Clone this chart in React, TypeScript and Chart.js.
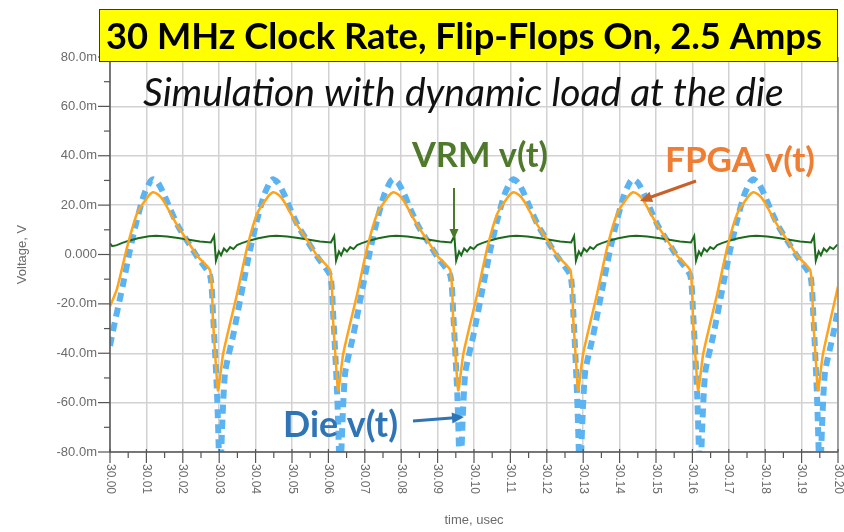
import React, { useEffect, useRef } from 'react';
import { Chart, registerables } from 'chart.js';

Chart.register(...registerables);

// time in ns after 30.00 usec, voltage in mV
const fpgaWave: [number, number][] = [
  [0, -21], [1.9, -14], [4.7, 3], [7.4, 16.5], [10.2, 23], [11.8, 25.2], [13.2, 24.3], [14.6, 22], [16.5, 17], [18.4, 12], [21.2, 5.7], [23.9, -0.5], [27.5, -6.5], [28.3, -27], [29.1, -45],
  [29.7, -55], [31.1, -40], [34.9, -16], [37.7, 3], [40.4, 16.5], [43.2, 23], [44.8, 25.2], [46.2, 24.3], [47.6, 22], [49.5, 17], [51.4, 12], [54.2, 5.7], [56.9, -0.5], [60.5, -6.5], [61.3, -27], [62.1, -45],
  [62.7, -55], [64.1, -40], [67.9, -16], [70.7, 3], [73.4, 16.5], [76.2, 23], [77.8, 25.2], [79.2, 24.3], [80.6, 22], [82.5, 17], [84.4, 12], [87.2, 5.7], [89.9, -0.5], [93.5, -6.5], [94.3, -27], [95.1, -45],
  [95.7, -55], [97.1, -40], [100.9, -16], [103.7, 3], [106.4, 16.5], [109.2, 23], [110.8, 25.2], [112.2, 24.3], [113.6, 22], [115.5, 17], [117.4, 12], [120.2, 5.7], [122.9, -0.5], [126.5, -6.5], [127.3, -27], [128.1, -45],
  [128.6, -55], [130.0, -40], [133.8, -16], [136.6, 3], [139.3, 16.5], [142.1, 23], [143.7, 25.2], [145.1, 24.3], [146.5, 22], [148.4, 17], [150.3, 12], [153.1, 5.7], [155.8, -0.5], [159.4, -6.5], [160.2, -27], [161.0, -45],
  [161.6, -55], [163.0, -40], [166.8, -16], [169.6, 3], [172.3, 16.5], [175.1, 23], [176.7, 25.2], [178.1, 24.3], [179.5, 22], [181.4, 17], [183.3, 12], [186.1, 5.7], [188.8, -0.5], [192.4, -6.5], [193.2, -27], [194.0, -45],
  [194.5, -55], [195.9, -40], [200, -13],
];

const dieWave: [number, number][] = [
  [0, -37], [0.8, -31], [3.6, -12], [5.5, 2], [7.4, 14], [9.3, 24], [11.0, 29.5], [11.8, 30.5], [13.2, 29], [14.8, 24.5], [16.5, 18.5], [18.7, 11.5], [21.2, 5.5], [24.2, -1.5], [27.5, -8.5], [28.3, -24], [29.4, -56],
  [30.0, -85], [30.25, -100], [30.6, -78], [31.6, -48], [33.8, -33], [36.6, -12], [38.5, 2], [40.4, 14], [42.3, 24], [44.0, 29.5], [44.8, 30.5], [46.2, 29], [47.8, 24.5], [49.5, 18.5], [51.7, 11.5], [54.2, 5.5], [57.2, -1.5], [60.5, -8.5], [61.3, -24], [62.4, -56],
  [63.0, -85], [63.25, -100], [63.6, -78], [64.6, -48], [66.8, -33], [69.6, -12], [71.5, 2], [73.4, 14], [75.3, 24], [77.0, 29.5], [77.8, 30.5], [79.2, 29], [80.8, 24.5], [82.5, 18.5], [84.7, 11.5], [87.2, 5.5], [90.2, -1.5], [93.5, -8.5], [94.3, -24], [95.4, -56],
  [96.0, -85], [96.25, -100], [96.6, -78], [97.6, -48], [99.8, -33], [102.6, -12], [104.5, 2], [106.4, 14], [108.3, 24], [110.0, 29.5], [110.8, 30.5], [112.2, 29], [113.8, 24.5], [115.5, 18.5], [117.7, 11.5], [120.2, 5.5], [123.2, -1.5], [126.5, -8.5], [127.3, -24], [128.3, -56],
  [128.9, -85], [129.15, -100], [129.5, -78], [130.5, -48], [132.7, -33], [135.5, -12], [137.4, 2], [139.3, 14], [141.2, 24], [142.9, 29.5], [143.7, 30.5], [145.1, 29], [146.7, 24.5], [148.4, 18.5], [150.6, 11.5], [153.1, 5.5], [156.1, -1.5], [159.4, -8.5], [160.2, -24], [161.3, -56],
  [161.9, -85], [162.15, -100], [162.5, -78], [163.5, -48], [165.7, -33], [168.5, -12], [170.4, 2], [172.3, 14], [174.2, 24], [175.9, 29.5], [176.7, 30.5], [178.1, 29], [179.7, 24.5], [181.4, 18.5], [183.6, 11.5], [186.1, 5.5], [189.1, -1.5], [192.4, -8.5], [193.2, -24], [194.2, -56],
  [194.8, -85], [195.05, -100], [195.4, -78], [196.4, -48], [198.6, -33], [200, -22],
];

const vrmWave: [number, number][] = [
  [0, 4.5], [0.6, 3.4], [1.9, 3.8], [3.2, 4.6], [5.2, 5.6], [7.7, 6.6], [10.7, 7.4], [12.7, 7.6], [15.7, 7.3], [18.7, 6.7], [21.7, 6.0], [24.7, 5.3], [27.7, 4.9],
  [28.6, 7.5], [29.1, -2.5], [29.9, 1.2], [30.5, -0.3], [31.3, 2.4], [32.1, 1.2], [33.0, 3.0], [33.9, 2.2], [34.9, 3.8], [36.2, 4.6], [38.2, 5.6], [40.7, 6.6], [43.7, 7.4], [45.7, 7.6], [48.7, 7.3], [51.7, 6.7], [54.7, 6.0], [57.7, 5.3], [60.7, 4.9],
  [61.6, 7.5], [62.1, -2.5], [62.9, 1.2], [63.5, -0.3], [64.3, 2.4], [65.1, 1.2], [66.0, 3.0], [66.9, 2.2], [67.9, 3.8], [69.2, 4.6], [71.2, 5.6], [73.7, 6.6], [76.7, 7.4], [78.7, 7.6], [81.7, 7.3], [84.7, 6.7], [87.7, 6.0], [90.7, 5.3], [93.7, 4.9],
  [94.6, 7.5], [95.1, -2.5], [95.9, 1.2], [96.5, -0.3], [97.3, 2.4], [98.1, 1.2], [99.0, 3.0], [99.9, 2.2], [100.9, 3.8], [102.2, 4.6], [104.2, 5.6], [106.7, 6.6], [109.7, 7.4], [111.7, 7.6], [114.7, 7.3], [117.7, 6.7], [120.7, 6.0], [123.7, 5.3], [126.7, 4.9],
  [127.5, 7.5], [128.0, -2.5], [128.8, 1.2], [129.4, -0.3], [130.2, 2.4], [131.0, 1.2], [131.9, 3.0], [132.8, 2.2], [133.8, 3.8], [135.1, 4.6], [137.1, 5.6], [139.6, 6.6], [142.6, 7.4], [144.6, 7.6], [147.6, 7.3], [150.6, 6.7], [153.6, 6.0], [156.6, 5.3], [159.6, 4.9],
  [160.5, 7.5], [161.0, -2.5], [161.8, 1.2], [162.4, -0.3], [163.2, 2.4], [164.0, 1.2], [164.9, 3.0], [165.8, 2.2], [166.8, 3.8], [168.1, 4.6], [170.1, 5.6], [172.6, 6.6], [175.6, 7.4], [177.6, 7.6], [180.6, 7.3], [183.6, 6.7], [186.6, 6.0], [189.6, 5.3], [192.6, 4.9],
  [193.4, 7.5], [193.9, -2.5], [194.7, 1.2], [195.3, -0.3], [196.1, 2.4], [196.9, 1.2], [197.8, 3.0], [198.7, 2.2], [199.7, 3.8], [200, 3.9],
];

const xTickLabels = ['30.00', '30.01', '30.02', '30.03', '30.04', '30.05', '30.06', '30.07', '30.08', '30.09', '30.10',
  '30.11', '30.12', '30.13', '30.14', '30.15', '30.16', '30.17', '30.18', '30.19', '30.20'];
const yTickLabels = ['-80.0m', '-60.0m', '-40.0m', '-20.0m', '0.000', '20.0m', '40.0m', '60.0m', '80.0m'];
const titleText = '30 MHz Clock Rate, Flip-Flops On, 2.5 Amps';
const subtitleText = 'Simulation with dynamic load at the die';
const xAxisTitle = 'time, usec';
const yAxisTitle = 'Voltage, V';
const seriesNames = ['FPGA v(t)', 'VRM v(t)', 'Die v(t)'];

function fitFont(ctx: CanvasRenderingContext2D, text: string, style: string, family: string, width: number) {
  ctx.font = `${style} 100px ${family}`;
  const w = ctx.measureText(text).width;
  const size = (100 * width) / w;
  ctx.font = `${style} ${size}px ${family}`;
}

function arrow(ctx: CanvasRenderingContext2D, x1: number, y1: number, x2: number, y2: number, color: string, lw: number, head: number) {
  const a = Math.atan2(y2 - y1, x2 - x1);
  ctx.save();
  ctx.strokeStyle = color;
  ctx.fillStyle = color;
  ctx.lineWidth = lw;
  ctx.beginPath();
  ctx.moveTo(x1, y1);
  ctx.lineTo(x2 - Math.cos(a) * head * 0.8, y2 - Math.sin(a) * head * 0.8);
  ctx.stroke();
  ctx.beginPath();
  ctx.moveTo(x2, y2);
  ctx.lineTo(x2 - head * Math.cos(a) + (head / 2.2) * Math.sin(a), y2 - head * Math.sin(a) - (head / 2.2) * Math.cos(a));
  ctx.lineTo(x2 - head * Math.cos(a) - (head / 2.2) * Math.sin(a), y2 - head * Math.sin(a) + (head / 2.2) * Math.cos(a));
  ctx.closePath();
  ctx.fill();
  ctx.restore();
}

const decorPlugin = {
  id: 'decor',
  afterDatasetsDraw(chart: any) {
    const ctx: CanvasRenderingContext2D = chart.ctx;
    const { left, right, top, bottom } = chart.chartArea;
    const xs = chart.scales.x;
    const ys = chart.scales.y;
    ctx.save();
    ctx.strokeStyle = '#555555';
    ctx.lineWidth = 1.5;
    ctx.beginPath();
    ctx.moveTo(left, top);
    ctx.lineTo(left, bottom);
    ctx.lineTo(right, bottom);
    ctx.stroke();
    ctx.strokeStyle = '#8a8a8a';
    ctx.beginPath();
    ctx.moveTo(right, top);
    ctx.lineTo(right, bottom);
    ctx.stroke();
    ctx.strokeStyle = '#555555';
    ctx.lineWidth = 1.2;
    for (let v = 0; v <= 200; v += 5) {
      const px = xs.getPixelForValue(v);
      const major = v % 10 === 0;
      ctx.beginPath();
      ctx.moveTo(px, bottom - (major ? 3 : 0));
      ctx.lineTo(px, bottom + (major ? 11 : 6));
      ctx.stroke();
    }
    for (let v = -80; v <= 80; v += 10) {
      const py = ys.getPixelForValue(v);
      const major = v % 20 === 0;
      ctx.beginPath();
      ctx.moveTo(left - (major ? 12 : 6), py);
      ctx.lineTo(left, py);
      ctx.stroke();
    }
    ctx.fillStyle = '#6b6b6b';
    ctx.font = '12px "Liberation Sans", Arial, sans-serif';
    ctx.textAlign = 'left';
    ctx.textBaseline = 'middle';
    xTickLabels.forEach((lab, i) => {
      const px = xs.getPixelForValue(i * 10);
      ctx.save();
      ctx.translate(px, bottom + 12);
      ctx.rotate(Math.PI / 2);
      ctx.fillText(lab, 0, 0);
      ctx.restore();
    });
    ctx.font = '13px "Liberation Sans", Arial, sans-serif';
    ctx.textAlign = 'center';
    ctx.fillText(xAxisTitle, (left + right) / 2, 520);
    ctx.save();
    ctx.translate(22, (top + bottom) / 2);
    ctx.rotate(-Math.PI / 2);
    ctx.fillText(yAxisTitle, 0, 0);
    ctx.restore();

    ctx.fillStyle = '#ffff00';
    ctx.fillRect(99, 9, 739, 53);
    ctx.strokeStyle = '#3a3a3a';
    ctx.lineWidth = 1;
    ctx.strokeRect(99.5, 9.5, 738, 52);
    ctx.fillStyle = '#000000';
    ctx.textAlign = 'left';
    ctx.textBaseline = 'alphabetic';
    fitFont(ctx, titleText, 'bold', 'Lato, sans-serif', 716);
    ctx.fillText(titleText, 106, 49);

    fitFont(ctx, subtitleText, 'italic', 'Lato, sans-serif', 641);
    ctx.fillStyle = '#111111';
    ctx.fillText(subtitleText, 143, 106);

    fitFont(ctx, seriesNames[1], 'bold', 'Lato, sans-serif', 136);
    ctx.fillStyle = '#4f7a2c';
    ctx.fillText(seriesNames[1], 412, 167);
    fitFont(ctx, seriesNames[0], 'bold', 'Lato, sans-serif', 150);
    ctx.fillStyle = '#ef7d32';
    ctx.fillText(seriesNames[0], 665, 172);
    fitFont(ctx, seriesNames[2], 'bold', 'Lato, sans-serif', 115);
    ctx.fillStyle = '#2f74b5';
    ctx.fillText(seriesNames[2], 283, 437);

    arrow(ctx, 454, 188, 454, 239, '#4a7a2a', 2, 10);
    arrow(ctx, 696, 181, 640, 201, '#c9602a', 3, 12);
    arrow(ctx, 413, 421, 464, 417, '#2f74b5', 3, 12);
    ctx.restore();
  },
};

export default function App() {
  const ref = useRef<HTMLCanvasElement>(null);
  useEffect(() => {
    if (!ref.current) return;
    const chart = new Chart(ref.current, {
      type: 'line',
      data: {
        datasets: [
          {
            label: seriesNames[0],
            data: fpgaWave.map(([x, y]) => ({ x, y })),
            borderColor: '#ffa31a',
            borderWidth: 2.5,
            pointRadius: 0,
            tension: 0.2,
          },
          {
            label: seriesNames[1],
            data: vrmWave.map(([x, y]) => ({ x, y })),
            borderColor: '#1c6a1c',
            borderWidth: 2,
            pointRadius: 0,
            tension: 0,
          },
          {
            label: seriesNames[2],
            data: dieWave.map(([x, y]) => ({ x, y })),
            borderColor: '#5cb3f2',
            borderWidth: 6,
            borderDash: [9, 6],
            pointRadius: 0,
            tension: 0.2,
          },
        ],
      },
      options: {
        responsive: false,
        animation: false,
        layout: { padding: { top: 57, right: 6, left: 0, bottom: 0 } },
        plugins: { legend: { display: false }, tooltip: { enabled: false } },
        scales: {
          x: {
            type: 'linear',
            min: 0,
            max: 200,
            ticks: { stepSize: 10, display: false },
            grid: { color: '#d2d2d2', lineWidth: 1.5, drawTicks: false },
            border: { display: false },
            afterFit: (s: any) => { s.height = 80; },
          },
          y: {
            min: -80,
            max: 80,
            ticks: {
              stepSize: 20,
              callback: (_v: any, i: number) => yTickLabels[i],
              color: '#6b6b6b',
              font: { family: '"Liberation Sans", Arial, sans-serif', size: 13 },
              padding: 13,
            },
            grid: { color: '#d2d2d2', lineWidth: 1.5, drawTicks: false },
            border: { display: false },
            afterFit: (s: any) => { s.width = 110; },
          },
        },
      },
      plugins: [decorPlugin],
    } as any);
    return () => chart.destroy();
  }, []);
  return (
    <div style={{ position: 'fixed', left: 0, top: 0, width: 844, height: 532, background: '#fff' }}>
      <canvas ref={ref} width={844} height={532} />
    </div>
  );
}
